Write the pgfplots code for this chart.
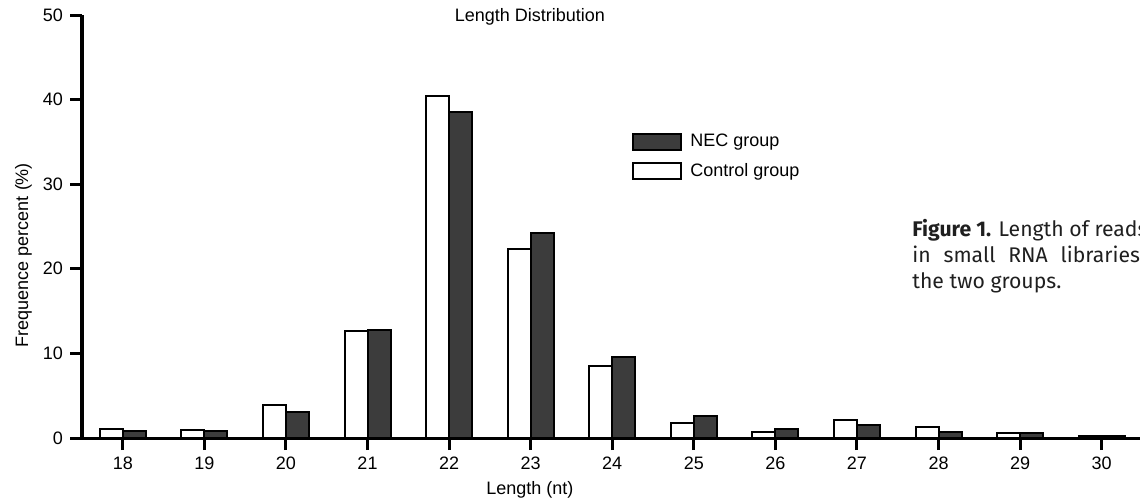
\documentclass[border=0pt]{standalone}
\usepackage{fontspec}
\setmainfont{Liberation Sans}
\newfontfamily\capfont{Fira Sans}
\usepackage{pgfplots}
\usepackage{pgfplotstable}
\pgfplotsset{compat=1.18}
\definecolor{NECfill}{HTML}{3C3C3C}

% read length (nt), control %, NEC %
\pgfplotstableread{
len control nec
18 1.10 0.85
19 1.00 0.80
20 3.90 3.10
21 12.60 12.80
22 40.40 38.50
23 22.30 24.20
24 8.50 9.60
25 1.80 2.60
26 0.70 1.05
27 2.15 1.50
28 1.25 0.70
29 0.55 0.55
30 0.20 0.20
}\lengthdata

\pgfplotsset{boxlegend/.style={legend image code/.code={
  \draw[##1] (0bp,-4bp) rectangle (24bp,4bp); \path (27bp,0bp);}}}

\begin{document}
\begin{tikzpicture}
\begin{axis}[
  scale only axis,width=529bp,height=211.5bp,
  xmin=17.5,xmax=30.47,ymin=0,ymax=50,
  ybar=0pt,bar width=11.5bp,
  axis lines*=left,
  x axis line style={line width=1.5bp},
  y axis line style={line width=2bp},
  xtick={18,...,30},ytick={0,10,...,50},
  minor tick num=0,
  tick align=outside,major tick length=6bp,
  tick style={black,line width=1.5bp},
  /pgf/number format/assume math mode=true,
  tick label style={font=\fontsize{9bp}{11bp}\selectfont},
  label style={font=\fontsize{9bp}{11bp}\selectfont},
  every axis title shift=0pt,
  title={Length Distribution},
  title style={font=\fontsize{9bp}{11bp}\selectfont,at={(0.4234,0.9858)},anchor=base,inner sep=0pt},
  xlabel={Length (nt)},
  xlabel style={at={(0.4234,-0.1324)},anchor=base,inner sep=0pt},
  ylabel={Frequence percent (\%)},
  ylabel style={at={(-0.051,0.4326)},anchor=base,inner sep=0pt},
  reverse legend,
  legend style={font=\fontsize{9bp}{11bp}\selectfont,draw=none,fill=none,
    at={(0.5198,0.7234)},anchor=north west,inner sep=0pt,row sep=4.5bp,
    nodes={inner sep=1bp},cells={anchor=west}},
]
\addplot[boxlegend,draw=black,line width=1bp,fill=white] table[x=len,y=control] {\lengthdata};
\addlegendentry{Control group}
\addplot[boxlegend,draw=black,line width=1bp,fill=NECfill] table[x=len,y=nec] {\lengthdata};
\addlegendentry{NEC group}
\end{axis}
\node[anchor=base west,text width=130bp,align=justify,inner sep=0pt,
  font=\capfont\fontsize{10.6bp}{12.8bp}\selectfont,text=black!88]
  at (415bp,100.5bp)
  {\textbf{Figure 1.} Length of reads\\ in small RNA libraries of\linebreak the two groups.};
\pgfresetboundingbox
\useasboundingbox (-41bp,-30bp) rectangle (529bp,219bp);
\end{tikzpicture}
\end{document}
